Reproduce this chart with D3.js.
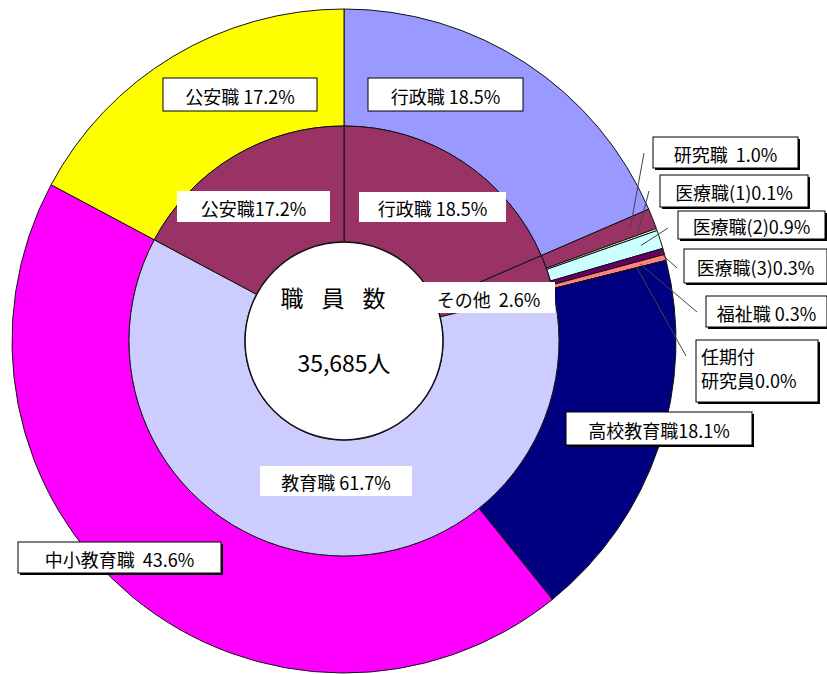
<!DOCTYPE html>
<html lang="ja">
<head>
<meta charset="UTF-8">
<title>職員数の内訳</title>
<script src="https://cdnjs.cloudflare.com/ajax/libs/d3/7.9.0/d3.min.js"></script>
<style>
  body { margin: 0; background: #fff; }
  svg text { font-family: "Noto Sans CJK JP", sans-serif; fill: #000; }
</style>
</head>
<body>
<svg id="chart" width="827" height="674"></svg>
<script>
// outer ring: 職種別
const outerNames = ["行政職", "研究職", "医療職(1)", "医療職(2)", "医療職(3)", "福祉職", "任期付研究員", "高校教育職", "中小教育職", "公安職"];
const outerValues = [18.5, 1.0, 0.1, 0.9, 0.3, 0.3, 0.0, 18.1, 43.6, 17.2];
const outerColors = ["#9999FF", "#993366", "#FFFFCC", "#CCFFFF", "#660066", "#FF8080", "#0066CC", "#000080", "#FF00FF", "#FFFF00"];

// inner ring: 大分類
const innerNames = ["行政職", "その他", "教育職", "公安職"];
const innerValues = [18.5, 2.6, 61.7, 17.2];
const innerColors = ["#993366", "#993366", "#CCCCFF", "#993366"];

const centerTitle = "職員数";
const centerTotal = "35,685人";

// label boxes (layout only)
const outerLayout = [
    {x: 368, y: 78, w: 155, h: 33, sep: " ", border: true},
    {x: 653, y: 137, w: 145, h: 31, sep: "  ", border: true, shadow: true, lead: [644, 153], tipR: 308},
    {x: 660, y: 175, w: 148, h: 32, sep: "", border: true, shadow: true, lead: [649, 191], tipR: 311},
    {x: 678, y: 211, w: 147, h: 28, sep: "", border: true, shadow: true, lead: [668, 228], tipR: 312},
    {x: 684, y: 249, w: 143, h: 34, sep: "", border: true, shadow: true, lead: [677, 268], tipR: 328},
    {x: 706, y: 296, w: 121, h: 31, sep: " ", border: true, shadow: true, lead: [697, 312], tipR: 306},
    {x: 696, y: 340, w: 122, h: 62, sep: "", border: true, shadow: true, lead: [686, 356], tipR: 302, split: 3},
    {x: 566, y: 412, w: 186, h: 33, sep: "", border: true, shadow: true},
    {x: 18, y: 542, w: 203, h: 31, sep: "  ", border: true, shadow: true},
    {x: 163, y: 78, w: 154, h: 33, sep: " ", border: true}
];
const innerLayout = [
    {x: 359, y: 192, w: 147, h: 30, sep: " "},
    {x: 422, y: 282, w: 133, h: 31, sep: "  "},
    {x: 260, y: 466, w: 152, h: 30, sep: " "},
    {x: 177, y: 191, w: 153, h: 31, sep: ""}
];

const cx = 344, cy = 341;
const rHole = 99, rMid = 215, rOuter = 332;

const svg = d3.select('#chart');
const g = svg.append('g').attr('transform', `translate(${cx},${cy})`);

const pie = d3.pie().sort(null).value(d => d);
const outerArc = d3.arc().innerRadius(rMid).outerRadius(rOuter);
const innerArc = d3.arc().innerRadius(rHole).outerRadius(rMid);

const outerPie = pie(outerValues);
const innerPie = pie(innerValues);

g.selectAll('path.outer').data(outerPie).join('path')
    .attr('class', 'outer')
    .attr('d', outerArc)
    .attr('fill', (d, i) => outerColors[i])
    .attr('stroke', '#111')
    .attr('stroke-width', 1);

g.selectAll('path.inner').data(innerPie).join('path')
    .attr('class', 'inner')
    .attr('d', innerArc)
    .attr('fill', (d, i) => innerColors[i])
    .attr('stroke', '#111')
    .attr('stroke-width', 1);

// centre hole
g.append('circle').attr('r', rHole).attr('fill', '#fff').attr('stroke', '#111').attr('stroke-width', 1.5);
g.append('text').attr('x', -2).attr('y', -44).attr('text-anchor', 'middle')
    .attr('dominant-baseline', 'central')
    .style('font-size', '23px').style('letter-spacing', '18px')
    .text(centerTitle);
g.append('text').attr('x', 0).attr('y', 21).attr('text-anchor', 'middle')
    .attr('dominant-baseline', 'central')
    .style('font-size', '23px')
    .text(centerTotal);

// leader lines for the thin slices
const polar = (r, a) => [cx + r * Math.sin(a), cy - r * Math.cos(a)];
outerLayout.forEach((lay, i) => {
    if (!lay.lead) return;
    const d = outerPie[i];
    const tip = polar(lay.tipR, (d.startAngle + d.endAngle) / 2);
    svg.append('line')
        .attr('x1', lay.lead[0]).attr('y1', lay.lead[1])
        .attr('x2', tip[0]).attr('y2', tip[1])
        .attr('stroke', '#444').attr('stroke-width', 1);
});

function drawLabel(lay, name, value) {
    const lg = svg.append('g');
    if (lay.shadow) {
        lg.append('rect').attr('x', lay.x + 2).attr('y', lay.y + 2)
            .attr('width', lay.w).attr('height', lay.h).attr('fill', '#000');
    }
    lg.append('rect').attr('x', lay.x).attr('y', lay.y)
        .attr('width', lay.w).attr('height', lay.h)
        .attr('fill', '#fff')
        .attr('stroke', lay.border ? '#000' : 'none').attr('stroke-width', 1);
    const pct = value.toFixed(1) + '%';
    if (lay.split) {
        const lines = [name.slice(0, lay.split), name.slice(lay.split) + pct];
        lines.forEach((t, k) => {
            lg.append('text').attr('x', lay.x + 5).attr('y', lay.y + 16 + k * 24)
                .attr('dominant-baseline', 'central')
                .style('font-size', '18px').text(t);
        });
    } else {
        lg.append('text')
            .attr('x', lay.x + lay.w / 2).attr('y', lay.y + lay.h / 2 + 1)
            .attr('text-anchor', 'middle').attr('dominant-baseline', 'central')
            .style('font-size', '18px').style('white-space', 'pre')
            .text(name + lay.sep + pct);
    }
}

innerLayout.forEach((lay, i) => drawLabel(lay, innerNames[i], innerValues[i]));
outerLayout.forEach((lay, i) => drawLabel(lay, outerNames[i], outerValues[i]));
</script>
</body>
</html>
